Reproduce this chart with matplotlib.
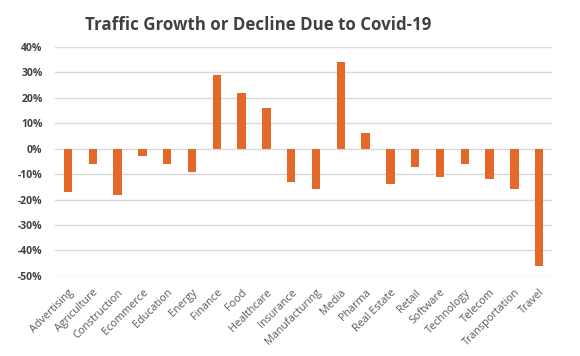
import numpy as np
import matplotlib.pyplot as plt
from matplotlib.ticker import FuncFormatter

categories = ['Advertising', 'Agriculture', 'Construction', 'Ecommerce', 'Education',
              'Energy', 'Finance', 'Food', 'Healthcare', 'Insurance', 'Manufacturing',
              'Media', 'Pharma', 'Real Estate', 'Retail', 'Software', 'Technology',
              'Telecom', 'Transportation', 'Travel']
change = [-17, -6, -18, -3, -6, -9, 29, 22, 16, -13, -16,
          34, 6, -14, -7, -11, -6, -12, -16, -46]
yticks = [40, 30, 20, 10, 0, -10, -20, -30, -40, -50]

plt.rcParams['font.family'] = ['Open Sans', 'DejaVu Sans']

fig = plt.figure(figsize=(5.8, 3.56), dpi=100)
ax = fig.add_axes([0.095, 0.225, 0.857, 0.643])

x = np.arange(len(categories))
ax.bar(x, change, width=0.34, color='#E4682A', zorder=3)

ax.set_ylim(-50, 40)
ax.set_xlim(-0.52, len(categories) - 0.48)
ax.set_yticks(yticks)
ax.yaxis.set_major_formatter(FuncFormatter(lambda v, p: f'{int(v)}%'))
ax.grid(axis='y', color='#D9D9D9', linewidth=1, zorder=0)
for s in ax.spines.values():
    s.set_visible(False)
ax.tick_params(length=0)
for lab in ax.get_yticklabels():
    lab.set_fontsize(7.5)
    lab.set_fontweight('bold')
    lab.set_color('#404040')
ax.tick_params(axis='y', pad=9)

ax.set_xticks(x)
ax.set_xticklabels(categories, rotation=45, ha='right', rotation_mode='anchor',
                   fontsize=7.8, color='#595959')
ax.tick_params(axis='x', pad=8)

fig.text(0.445, 0.93, 'Traffic Growth or Decline Due to Covid-19', ha='center', va='center',
         fontsize=12.2, fontweight='bold', color='#404040')

fig.savefig('out.png', dpi=100)
